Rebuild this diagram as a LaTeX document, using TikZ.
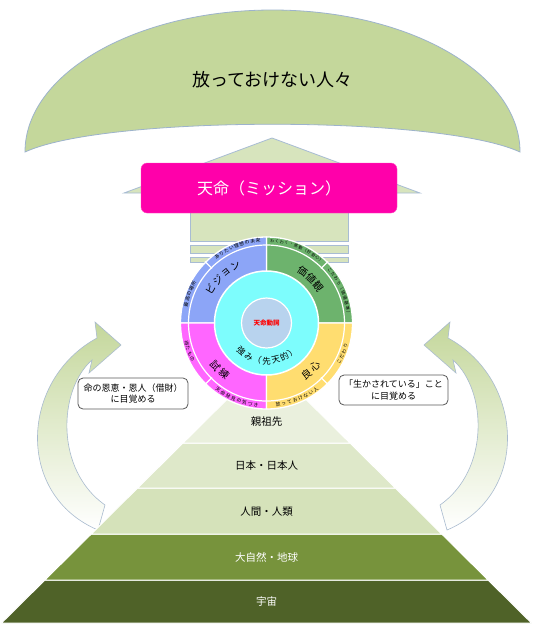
\documentclass[tikz,border=0pt]{standalone}
\usepackage{fontspec}
\setmainfont{Noto Sans CJK JP}
\usetikzlibrary{calc}
\definecolor{archg}{HTML}{C4D79B}
\definecolor{archln}{HTML}{9DB3CC}
\definecolor{houseg}{HTML}{D7E4BD}
\definecolor{houseln}{HTML}{A8BCD4}
\definecolor{mag}{HTML}{FF00AA}
\definecolor{qblue}{HTML}{8CA5F7}
\definecolor{qgreen}{HTML}{6DB36D}
\definecolor{qpink}{HTML}{FF66FF}
\definecolor{qyellow}{HTML}{FFDD70}
\definecolor{cyanc}{HTML}{7DFDFD}
\definecolor{innerc}{HTML}{B8D3EE}
\definecolor{tone}{HTML}{EAF0DD}
\definecolor{ttwo}{HTML}{DEE8C9}
\definecolor{tthree}{HTML}{D5E2BA}
\definecolor{tfour}{HTML}{77933C}
\definecolor{tfive}{HTML}{4F6228}
\definecolor{arrowln}{HTML}{A9BBCF}
\tikzset{
  archline/.style={draw=archln, line width=0.8pt},
  houseline/.style={draw=houseln, line width=0.8pt},
  tier/.style={draw=white, line width=1pt},
  tiertext/.style={font=\fontsize{10.5}{12}\selectfont},
  labelbox/.style={draw=black!65, line width=0.8pt, rounded corners=5pt, fill=white, align=center, font=\fontsize{9}{11.5}\selectfont, inner sep=2pt},
  sector/.style={draw=white, line width=1.3pt},
  arrowshape/.style={draw=arrowln, line width=0.6pt, top color=archg, bottom color=white},
}
\newcommand{\arcTop}[6]{\foreach \ch [count=\i] in {#6} {\pgfmathsetmacro{\ang}{#3-(\i-1)*#4}\node[inner sep=0pt, font=\fontsize{#5}{#5}\selectfont, rotate=\ang-90] (#1-\i) at ($(C)+(\ang:#2)$) {\ch};}}
\newcommand{\arcBot}[6]{\foreach \ch [count=\i] in {#6} {\pgfmathsetmacro{\ang}{#3+(\i-1)*#4}\node[inner sep=0pt, font=\fontsize{#5}{#5}\selectfont, rotate=\ang+90] (#1-\i) at ($(C)+(\ang:#2)$) {\ch};}}
\begin{document}
\begin{tikzpicture}[x=1pt,y=1pt]
\useasboundingbox (0,0) rectangle (544,-630);
\fill[white] (0,0) rectangle (544,-630);
% arch
\draw[archline, fill=archg] (25,-152) arc[start angle=180,end angle=0,x radius=247.5,y radius=142] .. controls (440,-115) and (105,-115) .. (25,-152) -- cycle;
\node[font=\fontsize{18}{20}\selectfont] (archtext) at (272.5,-80) {放っておけない人々};
% house
\draw[houseline, fill=houseg] (124,-193) -- (272,-138) -- (420,-193) -- cycle;
\draw[houseline, fill=houseg] (190,-193) rectangle (348,-241);
\draw[houseline, fill=houseg] (190,-245) rectangle (348,-253);
\draw[houseline, fill=houseg] (190,-257) rectangle (348,-262);
\node[rounded corners=6pt, fill=mag, draw=mag!70!white, minimum width=256pt, minimum height=50pt, text=white, font=\fontsize{16}{18}\selectfont] (mission) at (269,-188) {天命（ミッション）};
% arrows
\path[arrowshape] (98,-530) .. controls (15,-495) and (20,-380) .. (97,-338) -- (95,-322) -- (121,-345) -- (89,-373) -- (92,-360) .. controls (58,-390) and (55,-470) .. (105,-505) -- cycle;
\begin{scope}[shift={(545,0)},xscale=-1]
\path[arrowshape] (98,-530) .. controls (15,-495) and (20,-380) .. (97,-338) -- (95,-322) -- (121,-345) -- (89,-373) -- (92,-360) .. controls (58,-390) and (55,-470) .. (105,-505) -- cycle;
\end{scope}
% pyramid
\draw[tier, fill=tfive] (1.5,-623) -- (531.5,-623) -- (488.1,-580) -- (44.9,-580) -- cycle;
\draw[tier, fill=tfour] (44.9,-580) -- (488.1,-580) -- (441.7,-534) -- (91.3,-534) -- cycle;
\draw[tier, fill=tthree] (91.3,-534) -- (441.7,-534) -- (395.4,-488) -- (137.6,-488) -- cycle;
\draw[tier, fill=ttwo] (137.6,-488) -- (395.4,-488) -- (350,-443) -- (183,-443) -- cycle;
\draw[tier, fill=tone] (183,-443) -- (350,-443) -- (304.6,-398) -- (228.4,-398) -- cycle;
\node[tiertext] (tierA) at (266.5,-422) {親祖先};
\node[tiertext] (tierB) at (266.5,-466) {日本・日本人};
\node[tiertext] (tierC) at (266.5,-512) {人間・人類};
\node[tiertext, text=white] (tierD) at (266.5,-557) {大自然・地球};
\node[tiertext, text=white] (tierE) at (266.5,-602) {宇宙};
% circle
\coordinate (C) at (266.5,-323);
\draw[sector, fill=qgreen] (C) -- +(0:86) arc[start angle=0,end angle=90,radius=86] -- cycle;
\draw[sector, fill=qblue] (C) -- +(90:86) arc[start angle=90,end angle=180,radius=86] -- cycle;
\draw[sector, fill=qpink] (C) -- +(180:86) arc[start angle=180,end angle=270,radius=86] -- cycle;
\draw[sector, fill=qyellow] (C) -- +(270:86) arc[start angle=270,end angle=360,radius=86] -- cycle;
\draw[white, line width=1.2pt] (C) circle[radius=78];
\foreach \a in {45,135,225,315} \draw[white, line width=1.2pt] ($(C)+(\a:77)$) -- ($(C)+(\a:87)$);
\draw[white, line width=1.5pt, fill=cyanc] (C) circle[radius=52];
\draw[white, line width=1.2pt, fill=innerc] (C) circle[radius=25];
\node[text=red, font=\bfseries\fontsize{6.5}{7}\selectfont] (core) at (C) {天命動詞};
% quadrant labels
\arcTop{qb}{65}{148.5}{9.9}{10}{ビ,ジ,ョ,ン}
\arcTop{qg}{63}{55}{10}{10}{価,値,観}
\arcBot{qp}{66}{220}{10}{10}{試,練}
\arcBot{qy}{65}{308}{10}{10}{良,心}
\arcBot{st}{38}{228}{14}{8.5}{強,み,（,先,天,的,）}
% outer ring texts
\arcTop{ob}{82.5}{127}{3.9}{4.8}{あ,り,た,い,理,想,の,未,来}
\arcTop{obl}{82.5}{167}{3.8}{4.8}{最,高,の,場,所}
\arcTop{og}{82.5}{86}{3.4}{4}{わ,く,わ,く,・,感,動,（,好,奇,心,）}
\arcTop{ogr}{82.5}{40}{3.7}{4.2}{こ,だ,わ,り,（,価,値,基,準,）}
\arcBot{opl}{82.5}{194}{3.9}{4.8}{得,た,も,の}
\arcBot{opb}{82.5}{234}{4.1}{4.8}{天,命,発,見,の,気,づ,き}
\arcBot{oyb}{82.5}{278}{4.1}{4.8}{放,っ,て,お,け,な,い,人}
\arcBot{oyr}{82.5}{332}{3.9}{4.8}{こ,だ,わ,り}
% label boxes
\node[labelbox, minimum width=110pt, minimum height=31pt] (lblL) at (133,-393.5) {命の恩恵・恩人（借財）\\に目覚める};
\node[labelbox, minimum width=109pt, minimum height=30pt] (lblR) at (393.5,-390) {「生かされている」こと\\に目覚める};
\end{tikzpicture}
\end{document}
